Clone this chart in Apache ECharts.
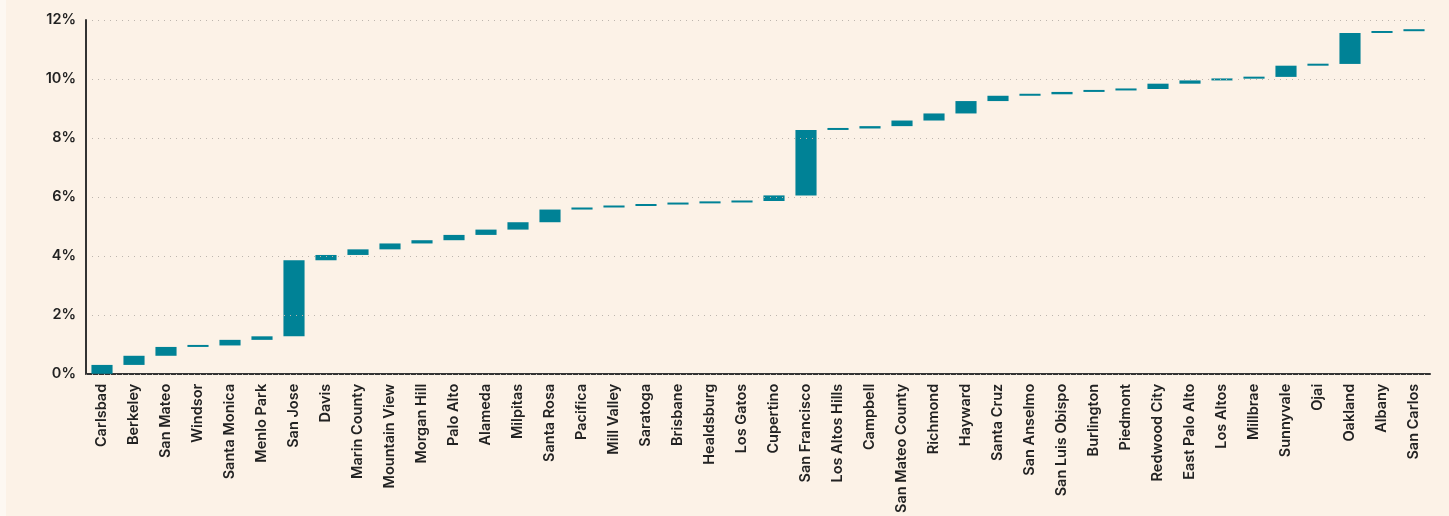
<!DOCTYPE html>
<html>
<head>
<meta charset="utf-8" />
<title>Waterfall</title>
<script src="https://cdn.jsdelivr.net/npm/echarts@6/dist/echarts.min.js"></script>
<style>
  html, body { margin: 0; padding: 0; background: #fdf8f2; }
  #chart { position: absolute; left: 6px; top: 0; width: 1443px; height: 516px; background: #fcf2e7; }
</style>
</head>
<body>
<div id="chart"></div>
<script>
var cities = ['Carlsbad', 'Berkeley', 'San Mateo', 'Windsor', 'Santa Monica', 'Menlo Park', 'San Jose',
  'Davis', 'Marin County', 'Mountain View', 'Morgan Hill', 'Palo Alto', 'Alameda', 'Milpitas',
  'Santa Rosa', 'Pacifica', 'Mill Valley', 'Saratoga', 'Brisbane', 'Healdsburg', 'Los Gatos',
  'Cupertino', 'San Francisco', 'Los Altos Hills', 'Campbell', 'San Mateo County', 'Richmond',
  'Hayward', 'Santa Cruz', 'San Anselmo', 'San Luis Obispo', 'Burlington', 'Piedmont',
  'Redwood City', 'East Palo Alto', 'Los Altos', 'Millbrae', 'Sunnyvale', 'Ojai', 'Oakland',
  'Albany', 'San Carlos'];

// share added by each city (percentage points)
var increments = [0.30, 0.31, 0.30, 0.05, 0.19, 0.12, 2.58,
  0.18, 0.19, 0.20, 0.11, 0.18, 0.18, 0.25,
  0.43, 0.07, 0.05, 0.05, 0.04, 0.03, 0.05,
  0.19, 2.22, 0.05, 0.08, 0.19, 0.24,
  0.42, 0.18, 0.05, 0.08, 0.05, 0.05,
  0.18, 0.11, 0.06, 0.06, 0.38, 0.06, 1.05,
  0.06, 0.06];

var yTicks = [0, 2, 4, 6, 8, 10, 12];

// running total before each city = invisible base of the bar
var base = [];
var run = 0;
for (var i = 0; i < increments.length; i++) {
  base.push(+run.toFixed(2));
  run += increments[i];
}

var chart = echarts.init(document.getElementById('chart'));
chart.setOption({
  animation: false,
  grid: { left: 80, right: 19, top: 20, bottom: 141 },
  xAxis: {
    type: 'category',
    data: cities,
    axisLine: { lineStyle: { color: '#333', width: 2 } },
    axisTick: { show: false },
    axisLabel: {
      rotate: 90,
      interval: 0,
      margin: 10,
      color: '#222',
      fontFamily: 'Inter, sans-serif',
      fontWeight: 600,
      fontSize: 14.5
    }
  },
  yAxis: {
    type: 'value',
    min: yTicks[0],
    max: yTicks[yTicks.length - 1],
    interval: 2,
    z: 10,
    axisLine: { show: true, lineStyle: { color: '#333', width: 2 } },
    axisTick: { show: false },
    axisLabel: {
      formatter: '{value}%',
      color: '#222',
      fontFamily: 'Inter, sans-serif',
      fontWeight: 600,
      fontSize: 14.5,
      margin: 10
    },
    splitLine: { show: true, lineStyle: { color: '#bdb6ae', type: [1, 5], width: 1 } }
  },
  series: [
    {
      type: 'bar',
      stack: 'w',
      data: base,
      itemStyle: { color: 'transparent' },
      silent: true,
      barWidth: '66%'
    },
    {
      type: 'bar',
      stack: 'w',
      data: increments,
      barWidth: '66%',
      barMinHeight: 2,
      itemStyle: { color: '#008296' }
    }
  ]
});
</script>
</body>
</html>
